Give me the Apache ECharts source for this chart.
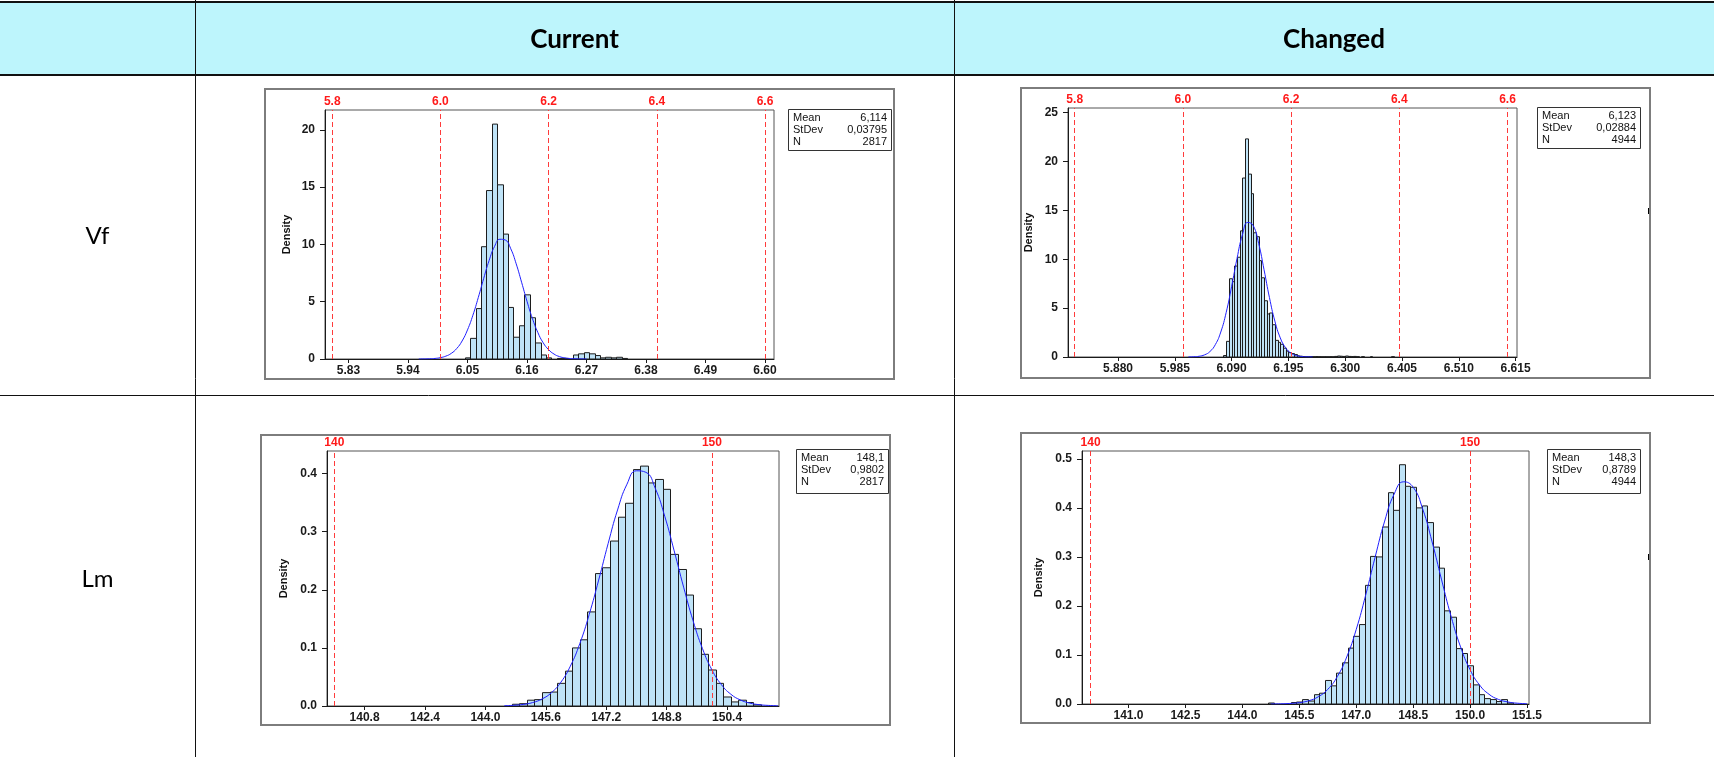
<!DOCTYPE html>
<html><head><meta charset="utf-8">
<script src="https://cdn.jsdelivr.net/npm/echarts@6/dist/echarts.min.js"></script>
<style>html,body{margin:0;padding:0;background:#fff}#c{width:1714px;height:757px}</style>
</head><body><div id="c"></div><script>
// ---------- DATA ----------
const statNames = ['Mean', 'StDev', 'N'];
const columnTitles = ['Current', 'Changed'];
const rowTitles = ['Vf', 'Lm'];

// Vf - Current
const vfCurBins = [6.05,6.06,6.07,6.08,6.09,6.10,6.11,6.12,6.13,6.14,6.15,6.16,6.17,6.18,6.19,6.20,6.21,6.22,6.23,6.24,6.25,6.26,6.27,6.28,6.29,6.30,6.31,6.32,6.33,6.34];
const vfCurDensity = [0.1,1.8,4.4,9.8,14.7,20.5,15.2,10.9,4.5,1.9,2.9,5.6,3.6,1.4,0.35,0.1,0,0.05,0.05,0,0.35,0.45,0.55,0.45,0.3,0.1,0.15,0.1,0.15,0.05];
const vfCurCurveX = [5.96,5.97,5.98,5.99,6.00,6.01,6.02,6.03,6.04,6.05,6.06,6.07,6.08,6.09,6.10,6.11,6.12,6.13,6.14,6.15,6.16,6.17,6.18,6.19,6.20,6.21,6.22,6.23,6.24,6.25,6.26,6.27];
const vfCurCurveY = [0.003,0.008,0.02,0.05,0.12,0.25,0.49,0.91,1.57,2.54,3.82,5.37,7.04,8.60,9.82,10.45,10.38,9.62,8.31,6.70,5.04,3.54,2.32,1.41,0.81,0.43,0.21,0.10,0.04,0.017,0.006,0.002];
const vfCurTicks = [5.83,5.94,6.05,6.16,6.27,6.38,6.49,6.60];
const vfCurYTicks = [0,5,10,15,20];
const vfCurSpecs = [5.8,6.0,6.2,6.4,6.6];
const vfCurSpecLabels = ['5.8','6.0','6.2','6.4','6.6'];
const vfCurStats = ['6,114','0,03795','2817'];

// Vf - Changed
const vfChgBins = [6.0775,6.0825,6.0875,6.0925,6.0975,6.1025,6.1075,6.1125,6.1175,6.1225,6.1275,6.1325,6.1375,6.1425,6.1475,6.1525,6.1575,6.1625,6.1675,6.1725,6.1775,6.1825,6.1875,6.1925,6.1975,6.2025,6.2075,6.2125,6.2175,6.2225,6.2275,6.2325,6.2375,6.2425,6.2475,6.2525,6.2575,6.2625,6.2675,6.2725,6.2775,6.2825,6.2875,6.2925,6.2975,6.3025,6.3075,6.3125,6.3175,6.3225,6.3325,6.3475,6.3875];
const vfChgDensity = [0.15,1.6,8.0,7.7,9.3,10.2,12.9,18.3,22.3,18.7,16.7,12.7,12.3,9.85,8.1,5.75,4.4,4.5,3.3,1.7,1.5,1.3,0.9,0.6,0.45,0.35,0.25,0.12,0.08,0.05,0.04,0.03,0.04,0.03,0.04,0.03,0.02,0.03,0.02,0.03,0.02,0.06,0.1,0.08,0.06,0.1,0.06,0.04,0.06,0.03,0.03,0.03,0.03];
const vfChgCurveX = [6.01,6.02,6.03,6.04,6.05,6.06,6.07,6.08,6.09,6.10,6.11,6.12,6.13,6.14,6.15,6.16,6.17,6.18,6.19,6.20,6.21,6.22,6.23,6.24];
const vfChgCurveY = [0.006,0.024,0.076,0.22,0.56,1.27,2.55,4.55,7.19,10.06,12.49,13.76,13.43,11.62,8.92,6.07,3.67,1.96,0.93,0.39,0.146,0.048,0.014,0.004];
const vfChgTicks = [5.880,5.985,6.090,6.195,6.300,6.405,6.510,6.615];
const vfChgYTicks = [0,5,10,15,20,25];
const vfChgSpecs = [5.8,6.0,6.2,6.4,6.6];
const vfChgSpecLabels = ['5.8','6.0','6.2','6.4','6.6'];
const vfChgStats = ['6,123','0,02884','4944'];

// Lm - Current
const lmCurBins = [144.8,145.0,145.2,145.4,145.6,145.8,146.0,146.2,146.4,146.6,146.8,147.0,147.2,147.4,147.6,147.8,148.0,148.2,148.4,148.6,148.8,149.0,149.2,149.4,149.6,149.8,150.0,150.2,150.4,150.6,150.8,151.0,151.2];
const lmCurDensity = [0.003,0.004,0.01,0.011,0.023,0.024,0.039,0.06,0.10,0.114,0.162,0.228,0.238,0.284,0.325,0.349,0.407,0.413,0.384,0.390,0.373,0.261,0.235,0.191,0.133,0.089,0.062,0.039,0.0155,0.007,0.010,0.006,0.002];
const lmCurCurveX = [144.5,144.75,145.0,145.25,145.5,145.75,146.0,146.25,146.5,146.75,147.0,147.25,147.5,147.75,148.0,148.25,148.5,148.75,149.0,149.25,149.5,149.75,150.0,150.25,150.5,150.75,151.0,151.25,151.5,151.75];
const lmCurCurveY = [0.0005,0.0012,0.0027,0.0059,0.0121,0.0230,0.0410,0.0686,0.1074,0.1577,0.2168,0.2795,0.3375,0.3819,0.4049,0.4023,0.3745,0.3267,0.2670,0.2046,0.1468,0.0987,0.0622,0.0368,0.0203,0.0105,0.0051,0.0023,0.0010,0.0004];
const lmCurTicks = [140.8,142.4,144.0,145.6,147.2,148.8,150.4];
const lmCurYTicks = [0,0.1,0.2,0.3,0.4];
const lmCurSpecs = [140,150];
const lmCurSpecLabels = ['140','150'];
const lmCurStats = ['148,1','0,9802','2817'];

// Lm - Changed
const lmChgBins = [144.75,145.35,145.5,145.65,145.8,145.95,146.1,146.25,146.4,146.55,146.7,146.85,147.0,147.15,147.3,147.45,147.6,147.75,147.9,148.05,148.2,148.35,148.5,148.65,148.8,148.95,149.1,149.25,149.4,149.55,149.7,149.85,150.0,150.15,150.3,150.45,150.6,150.75,150.9,151.05];
const lmChgDensity = [0.002,0.003,0.004,0.009,0.006,0.019,0.022,0.048,0.037,0.063,0.084,0.114,0.138,0.162,0.242,0.301,0.300,0.361,0.431,0.395,0.488,0.444,0.442,0.400,0.404,0.370,0.320,0.277,0.190,0.177,0.113,0.103,0.078,0.039,0.019,0.011,0.009,0.005,0.009,0.002];
const lmChgCurveX = [144.75,145.0,145.25,145.5,145.75,146.0,146.25,146.5,146.75,147.0,147.25,147.5,147.75,148.0,148.25,148.5,148.75,149.0,149.25,149.5,149.75,150.0,150.25,150.5,150.75,151.0,151.25,151.5];
const lmChgCurveY = [0.0001,0.0004,0.0011,0.0028,0.0067,0.0148,0.0299,0.0557,0.0959,0.1520,0.2223,0.3001,0.3731,0.4282,0.4532,0.4423,0.3981,0.3305,0.2531,0.1787,0.1164,0.0700,0.0387,0.0198,0.0093,0.0041,0.0016,0.0006];
const lmChgTicks = [141.0,142.5,144.0,145.5,147.0,148.5,150.0,151.5];
const lmChgYTicks = [0,0.1,0.2,0.3,0.4,0.5];
const lmChgSpecs = [140,150];
const lmChgSpecLabels = ['140','150'];
const lmChgStats = ['148,3','0,8789','4944'];

// ---------- LAYOUT ----------
const FONT = 'Liberation Sans, Arial, sans-serif';
const panels = [
  {grid:{left:325,top:110,width:449,height:249}, xMin:5.7866, xMax:6.6166, yMax:21.73, xDec:2, yDec:0, binW:0.01,
   bins:vfCurBins, dens:vfCurDensity, cx:vfCurCurveX, cy:vfCurCurveY, ticks:vfCurTicks, yTicks:vfCurYTicks,
   specs:vfCurSpecs, specLabels:vfCurSpecLabels, stats:vfCurStats, nameGap:33,
   box:{x:788,y:109,w:103,h:41}, frame:{x:265,y:89,w:629,h:290}},
  {grid:{left:1068,top:108,width:449,height:249}, xMin:5.7876, xMax:6.6176, yMax:25.46, xDec:3, yDec:0, binW:0.005,
   bins:vfChgBins, dens:vfChgDensity, cx:vfChgCurveX, cy:vfChgCurveY, ticks:vfChgTicks, yTicks:vfChgYTicks,
   specs:vfChgSpecs, specLabels:vfChgSpecLabels, stats:vfChgStats, nameGap:34,
   box:{x:1537,y:107,w:103,h:41}, frame:{x:1021,y:88,w:629,h:290}},
  {grid:{left:327,top:451,width:452,height:255}, xMin:139.805, xMax:151.776, yMax:0.439, xDec:1, yDec:1, binW:0.2,
   bins:lmCurBins, dens:lmCurDensity, cx:lmCurCurveX, cy:lmCurCurveY, ticks:lmCurTicks, yTicks:lmCurYTicks,
   specs:lmCurSpecs, specLabels:lmCurSpecLabels, stats:lmCurStats, nameGap:38,
   box:{x:796,y:449,w:92,h:44}, frame:{x:261,y:435,w:629,h:290}},
  {grid:{left:1082,top:451,width:447,height:253}, xMin:139.774, xMax:151.553, yMax:0.516, xDec:1, yDec:1, binW:0.15,
   bins:lmChgBins, dens:lmChgDensity, cx:lmChgCurveX, cy:lmChgCurveY, ticks:lmChgTicks, yTicks:lmChgYTicks,
   specs:lmChgSpecs, specLabels:lmChgSpecLabels, stats:lmChgStats, nameGap:38,
   box:{x:1547,y:449,w:93,h:44}, frame:{x:1021,y:433,w:629,h:290}}
];

const grids = [], xAxes = [], yAxes = [], series = [], graphics = [];

// table
graphics.push({type:'rect', shape:{x:0,y:2,width:1714,height:73}, style:{fill:'#bdf5fc'}, z:0});
const hl = (y,w)=>({type:'line', shape:{x1:0,y1:y,x2:1714,y2:y}, style:{stroke:'#111',lineWidth:w}, z:1});
const vl = (x)=>({type:'line', shape:{x1:x,y1:0,x2:x,y2:757}, style:{stroke:'#111',lineWidth:1}, z:1});
graphics.push(hl(2,2), hl(75,2), hl(395.5,1), vl(195.5), vl(954.5));
graphics.push({type:'text', x:574.5, y:40, style:{text:columnTitles[0], font:'bold 26px Lato, sans-serif', fill:'#000', align:'center', verticalAlign:'middle'}, z:2});
graphics.push({type:'text', x:1334, y:40, style:{text:columnTitles[1], font:'bold 26px Lato, sans-serif', fill:'#000', align:'center', verticalAlign:'middle'}, z:2});
graphics.push({type:'text', x:97.5, y:236, style:{text:rowTitles[0], font:'24px Lato, sans-serif', fill:'#000', align:'center', verticalAlign:'middle'}, z:2});
graphics.push({type:'text', x:97.5, y:579, style:{text:rowTitles[1], font:'24px Lato, sans-serif', fill:'#000', align:'center', verticalAlign:'middle'}, z:2});
graphics.push({type:'rect', shape:{x:1648,y:208,width:3,height:6}, style:{fill:'#000'}, z:3});
graphics.push({type:'rect', shape:{x:1648,y:554,width:3,height:6}, style:{fill:'#000'}, z:3});

panels.forEach((p, i) => {
  graphics.push({type:'rect', shape:{x:p.frame.x,y:p.frame.y,width:p.frame.w,height:p.frame.h}, style:{fill:'none', stroke:'#7d7d7d', lineWidth:2}, z:3});
  graphics.push({type:'rect', shape:{x:p.box.x+0.5,y:p.box.y+0.5,width:p.box.w,height:p.box.h}, style:{fill:'#fff', stroke:'#333', lineWidth:1}, z:3});
  statNames.forEach((n, k) => {
    const y = p.box.y + 8.5 + k * 12;
    graphics.push({type:'text', x:p.box.x+5, y:y, style:{text:n, font:'11px ' + FONT, fill:'#111', align:'left', verticalAlign:'middle'}, z:4});
    graphics.push({type:'text', x:p.box.x+p.box.w-4, y:y, style:{text:p.stats[k], font:'11px ' + FONT, fill:'#111', align:'right', verticalAlign:'middle'}, z:4});
  });

  grids.push(Object.assign({show:true, borderColor:'#555', borderWidth:1, backgroundColor:'transparent'}, p.grid));
  xAxes.push({gridIndex:i, type:'value', min:p.xMin, max:p.xMax,
    axisLine:{show:true, onZero:false, lineStyle:{color:'#1a1a1a', width:1}},
    axisTick:{show:true, customValues:p.ticks, length:4, lineStyle:{color:'#1a1a1a'}},
    axisLabel:{show:true, customValues:p.ticks, formatter:(v)=>Number(v).toFixed(p.xDec), fontFamily:FONT, fontWeight:'bold', fontSize:12, color:'#1a1a1a', margin:6},
    splitLine:{show:false}});
  yAxes.push({gridIndex:i, type:'value', min:0, max:p.yMax,
    name:'Density', nameLocation:'middle', nameGap:p.nameGap, nameRotate:90,
    nameTextStyle:{fontFamily:FONT, fontWeight:'bold', fontSize:11, color:'#111'},
    axisLine:{show:true, onZero:false, lineStyle:{color:'#1a1a1a', width:1}},
    axisTick:{show:true, customValues:p.yTicks, length:5, lineStyle:{color:'#1a1a1a'}},
    axisLabel:{show:true, customValues:p.yTicks, formatter:(v)=>Number(v).toFixed(p.yDec), fontFamily:FONT, fontWeight:'bold', fontSize:12, color:'#1a1a1a', margin:10},
    splitLine:{show:false}});

  // spec lines (under the bars)
  series.push({type:'line', xAxisIndex:i, yAxisIndex:i, data:[], z:1, silent:true,
    markLine:{silent:true, symbol:'none', animation:false,
      lineStyle:{color:'#ff3b3b', type:[5,3], width:1},
      label:{show:true, position:'end', formatter:'{b}', color:'#ff1a1a', fontFamily:FONT, fontWeight:'bold', fontSize:12, distance:2},
      data:p.specs.map((v,k)=>({name:p.specLabels[k], xAxis:v}))}});

  const w = p.binW;
  series.push({type:'custom', xAxisIndex:i, yAxisIndex:i, z:2, clip:true, silent:true,
    data:p.bins.map((b,k)=>[b, p.dens[k]]).filter(d=>d[1] > 0),
    encode:{x:0, y:1},
    renderItem:function(params, api){
      const x = api.value(0), y = api.value(1);
      const a = api.coord([x - w/2, y]);
      const b = api.coord([x + w/2, 0]);
      return {type:'rect', shape:{x:Math.round(a[0])+0.5, y:a[1], width:Math.round(b[0])-Math.round(a[0]), height:b[1]-a[1]},
        style:{fill:'#bfe3f7', stroke:'#1c1c1c', lineWidth:1}};
    }});

  series.push({type:'line', xAxisIndex:i, yAxisIndex:i, z:4, silent:true, smooth:true, symbol:'none', clip:true,
    data:p.cx.map((x,k)=>[x, p.cy[k]]),
    lineStyle:{color:'#1f1fff', width:1}});
});

const chart = echarts.init(document.getElementById('c'), null, {renderer:'canvas'});
chart.setOption({animation:false, backgroundColor:'#fff', grid:grids, xAxis:xAxes, yAxis:yAxes, series:series, graphic:{elements:graphics}});
</script></body></html>
